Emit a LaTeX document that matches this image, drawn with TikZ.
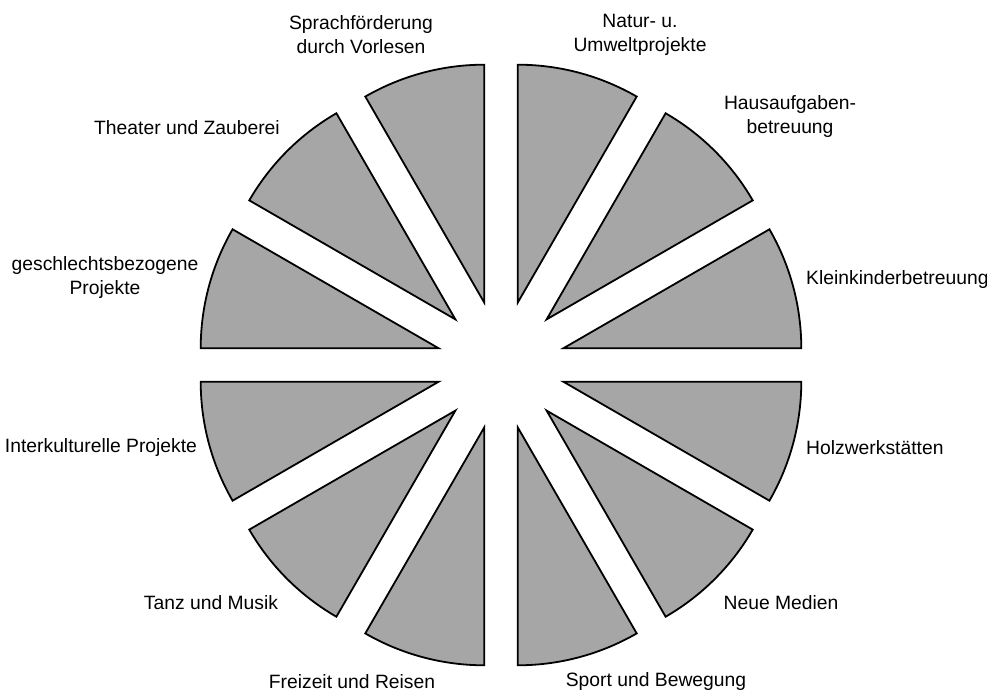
\documentclass[tikz,border=0pt]{standalone}
\usepackage{fontspec}
\setmainfont{Liberation Sans}
\usepackage {tikz}
\definecolor {wedgegray}{RGB}{166,166,166}

\begin{document}
\begin{tikzpicture}[x=1pt ,y=1pt ,
wedge/.style ={fill=wedgegray , draw=black , line width=1.8pt , line join=miter },
topic/.style ={font=\fontsize{19.3}{24}\selectfont , align=center , inner sep=0pt , text=black }]
\useasboundingbox (0,0) rectangle (987,693);
\coordinate (M) at (501,328);
\foreach \a in {0,30,...,330}
  \draw[wedge] ([shift={(\a+15:64.5)}]M) -- ++(\a:238)
    arc[start angle=\a, end angle=\a+30, radius=238] -- cycle;
\node[topic] (sprach) at (361,658) {Sprachförderung\\durch Vorlesen};
\node[topic] (natur) at (640,658) {Natur- u.\\Umweltprojekte};
\node[topic] (haus) at (790,576) {Hausaufgaben-\\betreuung};
\node[topic] (theater) at (187,565) {Theater und Zauberei};
\node[topic] (geschl) at (105,415) {geschlechtsbezogene\\Projekte};
\node[topic,anchor=west] (klein) at (806,413) {Kleinkinderbetreuung};
\node[topic,anchor=west] (holz) at (806,245) {Holzwerkstätten};
\node[topic] (inter) at (101,245) {Interkulturelle Projekte};
\node[topic] (tanz) at (211,90) {Tanz und Musik};
\node[topic] (medien) at (781,90) {Neue Medien};
\node[topic] (reisen) at (352,11) {Freizeit und Reisen};
\node[topic] (sport) at (656,11) {Sport und Bewegung};
\end{tikzpicture}
\end{document}
